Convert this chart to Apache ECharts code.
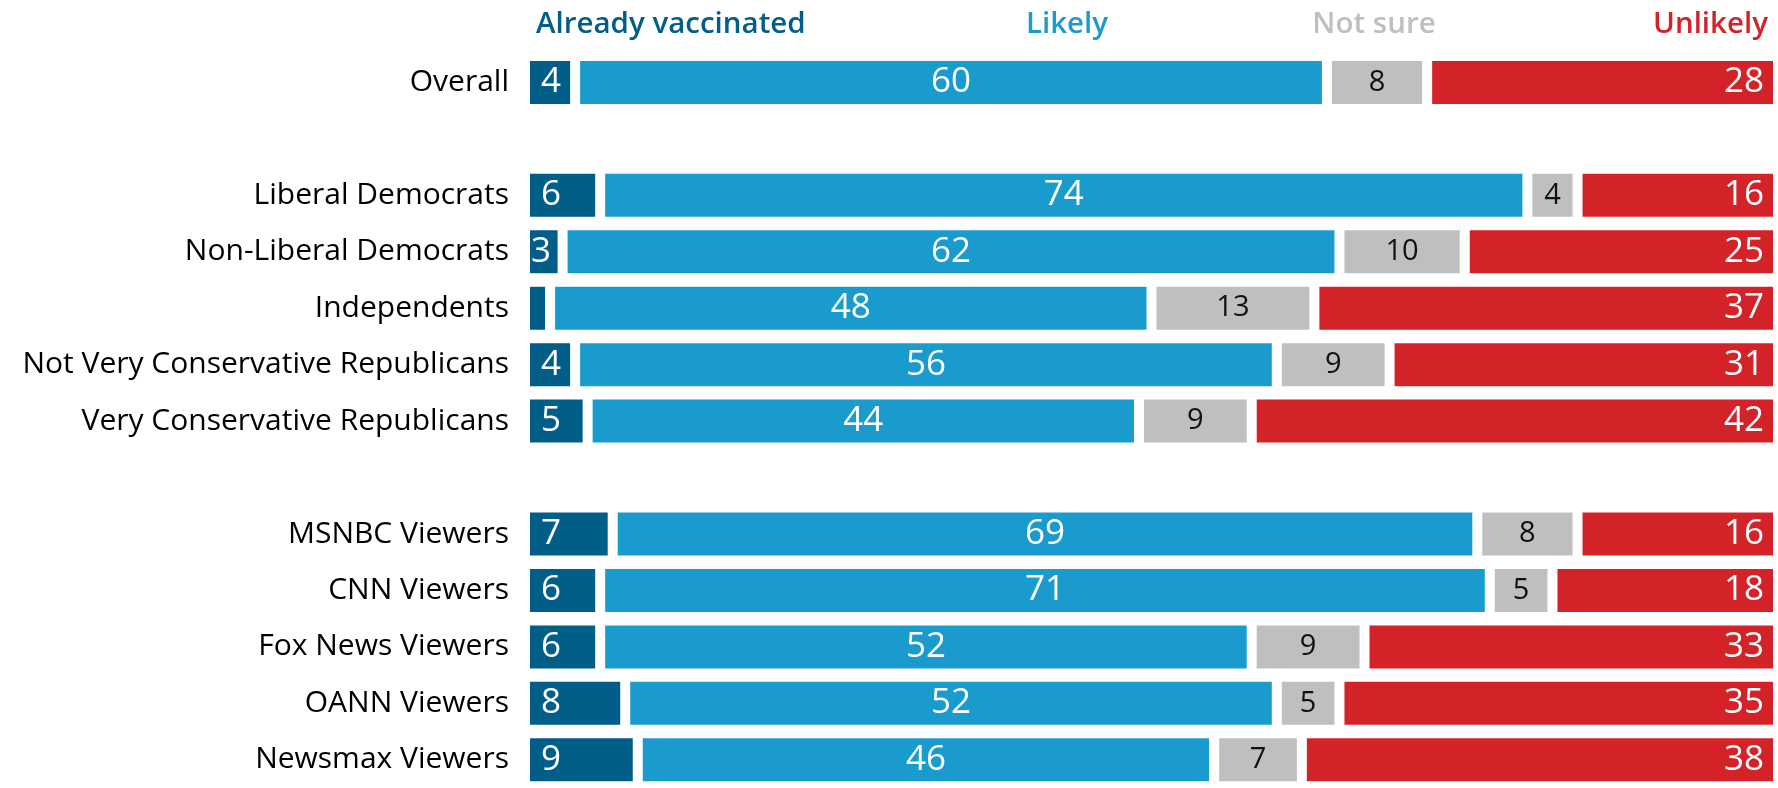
<!DOCTYPE html>
<html>
<head>
<meta charset="utf-8">
<script src="https://cdn.jsdelivr.net/npm/echarts@6/dist/echarts.min.js"></script>
<style>
  html, body { margin: 0; padding: 0; background: #fff; }
  #chart { width: 1778px; height: 788px; }
</style>
</head>
<body>
<div id="chart"></div>
<script>
// rows top to bottom, blank strings are spacer rows
const categories = [
  'Overall', ' ',
  'Liberal Democrats', 'Non-Liberal Democrats', 'Independents',
  'Not Very Conservative Republicans', 'Very Conservative Republicans', '  ',
  'MSNBC Viewers', 'CNN Viewers', 'Fox News Viewers', 'OANN Viewers', 'Newsmax Viewers'
]
const alreadyVaccinated = [4, null, 6, 3, 2, 4, 5, null, 7, 6, 6, 8, 9]
const likely = [60, null, 74, 62, 48, 56, 44, null, 69, 71, 52, 52, 46]
const notSure = [8, null, 4, 10, 13, 9, 9, null, 8, 5, 9, 5, 7]
const unlikely = [28, null, 16, 25, 37, 31, 42, null, 16, 18, 33, 35, 38]

const colors = {
  already: '#015e89',
  likely: '#199ccd',
  notSure: '#bfbfbf',
  unlikely: '#d42229'
}
const font = 'Open Sans'
const headFont = '600 29.5px "Open Sans"'

const chart = echarts.init(document.getElementById('chart'))

// white border = gap between segments
const segment = (name, data, color, label) => ({
  name,
  type: 'bar',
  stack: 'total',
  data,
  barWidth: 53,
  silent: true,
  itemStyle: { color, borderColor: '#fff', borderWidth: 5 },
  label
})

const whiteLabel = { show: true, color: '#fff', fontFamily: font, fontSize: 35 }

// narrow boxes: pull the number closer to the left edge
const alreadyData = alreadyVaccinated.map(v =>
  v !== null && v <= 3 ? { value: v, label: { distance: 6 } } : v
)

chart.setOption({
  animation: false,
  grid: { left: 525, right: -3.25, top: 54.2, bottom: -9.8 },
  xAxis: {
    type: 'value',
    min: 0,
    max: 100,
    show: false
  },
  yAxis: {
    type: 'category',
    inverse: true,
    data: categories,
    axisLine: { show: false },
    axisTick: { show: false },
    axisLabel: { color: '#000', fontFamily: font, fontSize: 30, margin: 16 }
  },
  graphic: [
    { type: 'text', x: 536, y: 25, style: { text: 'Already vaccinated', fill: colors.already, font: headFont, textAlign: 'left', textVerticalAlign: 'middle' } },
    { type: 'text', x: 1067, y: 25, style: { text: 'Likely', fill: colors.likely, font: headFont, textAlign: 'center', textVerticalAlign: 'middle' } },
    { type: 'text', x: 1374, y: 25, style: { text: 'Not sure', fill: colors.notSure, font: headFont, textAlign: 'center', textVerticalAlign: 'middle' } },
    { type: 'text', x: 1768, y: 25, style: { text: 'Unlikely', fill: colors.unlikely, font: headFont, textAlign: 'right', textVerticalAlign: 'middle' } }
  ],
  series: [
    segment('Already vaccinated', alreadyData, colors.already, {
      ...whiteLabel, position: 'insideLeft', distance: 16,
      formatter: p => (p.value >= 3 ? p.value : '')
    }),
    segment('Likely', likely, colors.likely, { ...whiteLabel, position: 'inside' }),
    segment('Not sure', notSure, colors.notSure, {
      show: true, position: 'inside', color: '#111', fontFamily: font, fontSize: 29
    }),
    segment('Unlikely', unlikely, colors.unlikely, { ...whiteLabel, position: 'insideRight', distance: 14 })
  ]
})
</script>
</body>
</html>
